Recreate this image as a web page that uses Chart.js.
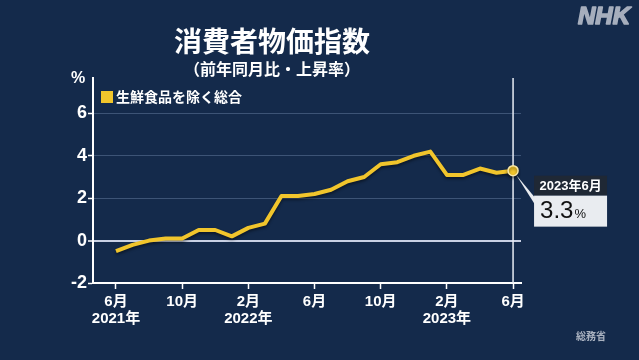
<!DOCTYPE html>
<html>
<head>
<meta charset="utf-8">
<script src="https://cdn.jsdelivr.net/npm/chart.js@4/dist/chart.umd.min.js"></script>
<style>
  html, body { margin: 0; padding: 0; background: #142a4b; }
</style>
</head>
<body>
<canvas id="cpi" width="639" height="360"></canvas>
<script>
  // 2021年6月 = 0 ... 2023年6月 = 24
  const monthIndex = [0, 1, 2, 3, 4, 5, 6, 7, 8, 9, 10, 11, 12,
    13, 14, 15, 16, 17, 18, 19, 20, 21, 22, 23, 24];
  const coreCpi = [-0.5, -0.2, 0.0, 0.1, 0.1, 0.5, 0.5, 0.2, 0.6, 0.8, 2.1, 2.1, 2.2,
    2.4, 2.8, 3.0, 3.6, 3.7, 4.0, 4.2, 3.1, 3.1, 3.4, 3.2, 3.3];

  const xTickPos = [0, 4, 8, 12, 16, 20, 24];
  const xTickMonths = ['6月', '10月', '2月', '6月', '10月', '2月', '6月'];
  const xTickYears = ['2021年', '', '2022年', '', '', '2023年', ''];
  const yTicks = [-2, 0, 2, 4, 6];

  const seriesName = '生鮮食品を除く総合';
  const lastLabel = '2023年6月';

  const YELLOW = '#f1c52c';
  const BG = '#142a4b';
  const FONT = "'Liberation Sans', 'Noto Sans CJK JP', sans-serif";

  const decor = {
    id: 'decor',
    beforeDraw(chart) {
      const ctx = chart.ctx;
      ctx.save();
      ctx.fillStyle = BG;
      ctx.fillRect(0, 0, chart.width, chart.height);
      ctx.restore();
    },
    beforeDatasetsDraw(chart) {
      const ctx = chart.ctx, a = chart.chartArea;
      const x = chart.scales.x.getPixelForValue(monthIndex[monthIndex.length - 1]);
      ctx.save();
      ctx.strokeStyle = '#e8ecf4';
      ctx.lineWidth = 1.5;
      ctx.beginPath();
      ctx.moveTo(x, a.top);
      ctx.lineTo(x, a.bottom);
      ctx.stroke();
      ctx.restore();
    },
    beforeDatasetDraw(chart) {
      const ctx = chart.ctx;
      ctx.save();
      ctx.shadowColor = 'rgba(0,0,0,0.45)';
      ctx.shadowBlur = 3;
      ctx.shadowOffsetY = 2;
    },
    afterDatasetDraw(chart) {
      chart.ctx.restore();
    },
    afterDraw(chart) {
      const ctx = chart.ctx;
      ctx.save();
      ctx.textAlign = 'center';
      ctx.textBaseline = 'middle';
      ctx.fillStyle = '#ffffff';
      ctx.font = 'bold 28px ' + FONT;
      ctx.fillText('消費者物価指数', 272, 44);
      ctx.font = 'bold 16px ' + FONT;
      ctx.fillText('（前年同月比・上昇率）', 272, 71);

      ctx.font = 'bold 16px ' + FONT;
      ctx.fillText('%', 78, 79);

      // legend
      ctx.fillStyle = YELLOW;
      ctx.fillRect(101, 91, 12, 12);
      ctx.fillStyle = '#ffffff';
      ctx.textAlign = 'left';
      ctx.font = 'bold 14px ' + FONT;
      ctx.fillText(seriesName, 116, 98);

      // NHK mark
      ctx.fillStyle = '#a6aebd';
      ctx.strokeStyle = '#a6aebd';
      ctx.lineWidth = 1.6;
      ctx.lineJoin = 'round';
      ctx.font = 'italic bold 24px ' + FONT;
      ctx.textAlign = 'right';
      ctx.fillText('NHK', 630, 17);
      ctx.strokeText('NHK', 630, 17);

      // source
      ctx.fillStyle = '#aab2c0';
      ctx.font = 'bold 10px ' + FONT;
      ctx.fillText('総務省', 606, 337);

      // callout
      const pt = chart.getDatasetMeta(0).data[coreCpi.length - 1];
      const px = pt.x, py = pt.y;
      const bx = px + 21, bw = 73;
      ctx.fillStyle = '#e9ecf0';
      ctx.beginPath();
      ctx.moveTo(px + 3, py + 4);
      ctx.lineTo(bx + 1, py + 27);
      ctx.lineTo(bx + 1, py + 34);
      ctx.closePath();
      ctx.fill();
      ctx.fillStyle = '#1f2835';
      ctx.fillRect(bx, py + 5, bw, 20);
      ctx.fillStyle = '#e9ecf0';
      ctx.fillRect(bx, py + 25, bw, 31);
      ctx.fillStyle = '#ffffff';
      ctx.textAlign = 'center';
      ctx.font = 'bold 13px ' + FONT;
      ctx.fillText(lastLabel, bx + bw / 2, py + 15.5);
      ctx.textAlign = 'left';
      ctx.fillStyle = '#111111';
      ctx.font = '24px ' + FONT;
      const val = coreCpi[coreCpi.length - 1].toFixed(1);
      ctx.fillText(val, bx + 6, py + 41);
      const w = ctx.measureText(val).width;
      ctx.font = '13px ' + FONT;
      ctx.fillText('%', bx + 7 + w, py + 44);
      ctx.restore();
    }
  };

  const points = monthIndex.map((m, i) => ({ x: m, y: coreCpi[i] }));

  new Chart(document.getElementById('cpi'), {
    type: 'line',
    data: {
      datasets: [{
        label: seriesName,
        data: points,
        borderColor: YELLOW,
        backgroundColor: YELLOW,
        borderWidth: 4,
        borderJoinStyle: 'round',
        tension: 0,
        pointRadius: ctx => ctx.dataIndex === coreCpi.length - 1 ? 5 : 0,
        pointBorderColor: '#f8e7a8',
        pointBorderWidth: 1.5,
        pointBackgroundColor: YELLOW
      }]
    },
    options: {
      responsive: false,
      animation: false,
      devicePixelRatio: 1,
      layout: { padding: { top: 78, right: 118, left: 0, bottom: 0 } },
      plugins: {
        legend: { display: false },
        tooltip: { enabled: false }
      },
      scales: {
        x: {
          type: 'linear',
          min: -1.39,
          max: 24.48,
          afterBuildTicks: s => { s.ticks = xTickPos.map(v => ({ value: v })); },
          afterFit: s => { s.height = 77; },
          border: { color: '#ffffff', width: 2 },
          grid: {
            drawOnChartArea: false,
            drawTicks: true,
            tickLength: 6,
            tickColor: '#ffffff',
            tickWidth: 1.5
          },
          ticks: {
            autoSkip: false,
            maxRotation: 0,
            padding: 4,
            color: '#ffffff',
            font: { family: FONT, size: 15, weight: 'bold', lineHeight: 1.15 },
            callback: (v, i) => {
              const k = xTickPos.indexOf(v);
              return xTickYears[k] ? [xTickMonths[k], xTickYears[k]] : xTickMonths[k];
            }
          }
        },
        y: {
          min: -2,
          max: 7.67,
          afterBuildTicks: s => { s.ticks = yTicks.map(v => ({ value: v })); },
          afterFit: s => { s.width = 93; },
          border: { color: '#ffffff', width: 2 },
          grid: {
            color: c => c.tick.value === 0 ? '#c9d1e4' : 'rgba(110,135,170,0.45)',
            lineWidth: c => c.tick.value === 0 ? 2 : 1,
            tickLength: 5,
            tickColor: '#ffffff',
            tickWidth: 1.5
          },
          ticks: {
            padding: 1,
            color: '#ffffff',
            font: { family: FONT, size: 18, weight: 'bold' }
          }
        }
      }
    },
    plugins: [decor]
  });
</script>
</body>
</html>
